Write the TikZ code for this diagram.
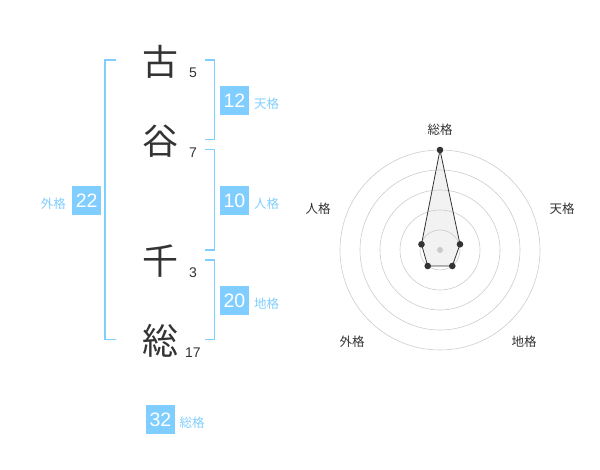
\documentclass[tikz,border=0pt]{standalone}
\usepackage{fontspec}
\setmainfont{Liberation Sans}
\newfontfamily\cjk{Noto Sans CJK JP}
\definecolor{sky}{RGB}{128,206,255}
\definecolor{ink}{RGB}{51,51,51}
\definecolor{ring}{RGB}{204,204,204}
\tikzset{
  kanji/.style={font=\cjk\fontsize{36}{36}\selectfont, text=ink, inner sep=0pt},
  stroke/.style={font=\fontsize{14}{14}\selectfont, text=ink, inner sep=0pt},
  numbox/.style={fill=sky, text=white, minimum width=29pt, minimum height=29pt, inner sep=0pt, font=\fontsize{19.5}{19.5}\selectfont},
  kaku/.style={font=\cjk\fontsize{12.5}{12.5}\selectfont, text=sky, inner sep=0pt},
  brk/.style={draw=sky, line width=1.4pt},
  axlab/.style={font=\cjk\fontsize{12.5}{12.5}\selectfont, text=ink, inner sep=0pt},
  dot/.style={circle, fill=ink, inner sep=0pt, minimum size=6.6pt},
}
\begin{document}
\begin{tikzpicture}[x=1pt,y=-1pt]
\useasboundingbox (0,0) rectangle (600,470);
% characters
\node[kanji] (c1) at (160,62) {古};
\node[kanji] (c2) at (160,141) {谷};
\node[kanji] (c3) at (160,261) {千};
\node[kanji] (c4) at (160,341) {総};
\node[stroke] (s1) at (193,73) {5};
\node[stroke] (s2) at (193,153) {7};
\node[stroke] (s3) at (193,273) {3};
\node[stroke] (s4) at (193,353) {17};
% brackets
\draw[brk] (116,60) -- (105,60) -- (105,339.5) -- (116,339.5);
\draw[brk] (205,60) -- (214.5,60) -- (214.5,139.5) -- (205,139.5);
\draw[brk] (205,149.5) -- (214.5,149.5) -- (214.5,250) -- (205,250);
\draw[brk] (205,260) -- (214.5,260) -- (214.5,339.5) -- (205,339.5);
% boxes
\node[numbox] (ten) at (234.5,100.5) {12};
\node[kaku, anchor=west] (tenl) at (254,104) {天格};
\node[numbox] (jin) at (234.5,200.5) {10};
\node[kaku, anchor=west] (jinl) at (254,204) {人格};
\node[numbox] (chi) at (234.5,300.5) {20};
\node[kaku, anchor=west] (chil) at (254,304) {地格};
\node[numbox] (gai) at (86.7,200.5) {22};
\node[kaku, anchor=east] (gail) at (66,204) {外格};
\node[numbox] (sou) at (160.5,419.5) {32};
\node[kaku, anchor=west] (soul) at (179.5,423) {総格};
% radar
\coordinate (O) at (440,250);
\foreach \r in {20,40,60,80,100} \draw[ring, line width=0.6pt] (O) circle (\r);
\fill[ring] (O) circle (3);
\coordinate (pS) at (440,150);
\coordinate (pT) at (460,244.3);
\coordinate (pC) at (452.3,266);
\coordinate (pG) at (427.7,266);
\coordinate (pJ) at (421.5,244.3);
\draw[ink, line width=0.8pt, fill=gray!50, fill opacity=0.2] (pS) -- (pT) -- (pC) -- (pG) -- (pJ) -- cycle;
\foreach \p in {pS,pT,pC,pG,pJ} \node[dot] at (\p) {};
\node[axlab] (aS) at (440,130) {総格};
\node[axlab] (aT) at (562,208.5) {天格};
\node[axlab] (aJ) at (318,208.5) {人格};
\node[axlab] (aG) at (352,342) {外格};
\node[axlab] (aC) at (524,342) {地格};
\end{tikzpicture}
\end{document}
